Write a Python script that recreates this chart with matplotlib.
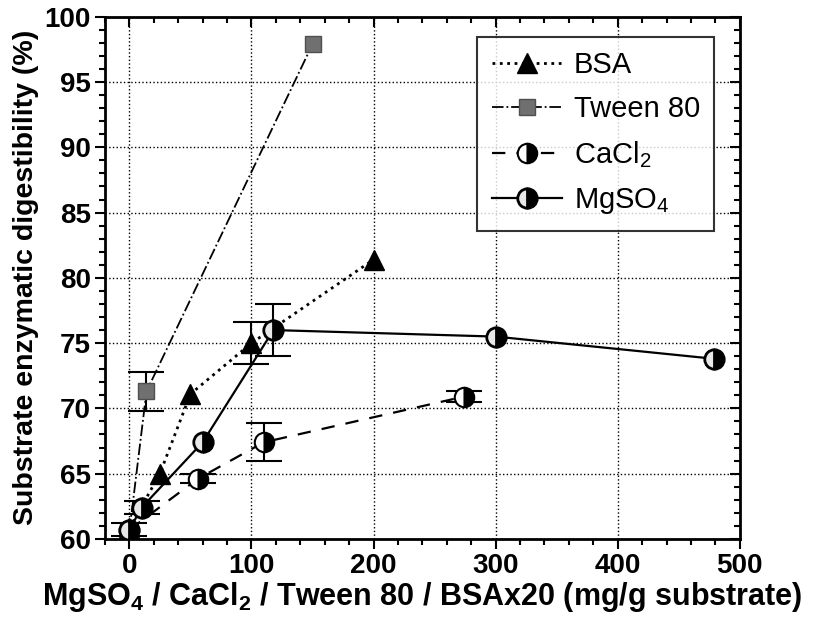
import matplotlib
matplotlib.use("Agg")
import matplotlib.pyplot as plt
from matplotlib.ticker import MultipleLocator

plt.rcParams['font.family'] = ['Liberation Sans', 'DejaVu Sans']
plt.rcParams['mathtext.fontset'] = 'custom'
plt.rcParams['mathtext.rm'] = 'Liberation Sans'
plt.rcParams['mathtext.bf'] = 'Liberation Sans:bold'

# data
bsa_x = [0, 25, 50, 100, 200]
bsa_y = [60.8, 65.0, 71.1, 75.0, 81.4]
bsa_err = [0, 0, 0, 1.6, 0]

tween_x = [0, 14, 150]
tween_y = [60.6, 71.3, 97.9]
tween_err = [0, 1.5, 0]

cacl_x = [0, 56, 110, 274]
cacl_y = [60.7, 64.6, 67.4, 70.9]
cacl_err = [0.5, 0.35, 1.45, 0.4]

mg_x = [0, 10, 60, 118, 300, 479]
mg_y = [60.7, 62.4, 67.4, 76.0, 75.5, 73.8]
mg_err = [0, 0.5, 0, 2.0, 0, 0]

fig = plt.figure(figsize=(8.17, 6.23), dpi=100)
ax = fig.add_axes([0.1285, 0.135, 0.777, 0.838])


def errbars(x, y, err, z):
    # only points that actually carry an error bar
    pts = [(a, b, e) for a, b, e in zip(x, y, err) if e > 0]
    if not pts:
        return
    xs, ys, es = zip(*pts)
    ax.errorbar(xs, ys, yerr=es, fmt='none', ecolor='black', capsize=13,
                elinewidth=1.5, capthick=1.5, zorder=z)


errbars(cacl_x, cacl_y, cacl_err, 3)
errbars(mg_x, mg_y, mg_err, 4)
errbars(bsa_x, bsa_y, bsa_err, 2)
errbars(tween_x, tween_y, tween_err, 2)

h_bsa, = ax.plot(bsa_x, bsa_y, ':', color='black', lw=2,
                 marker='^', ms=15, mfc='black', mec='black', label='BSA', zorder=2)
h_tw, = ax.plot(tween_x, tween_y, '-.', color='black', lw=1.3,
                marker='s', ms=12, mfc='#707070', mec='#505050', label='Tween 80', zorder=2)
h_ca, = ax.plot(cacl_x, cacl_y, '--', color='black', lw=1.6, dashes=(6, 5),
                marker='o', ms=14, mec='black', mew=1.5, mfc='black',
                markerfacecoloralt='white', fillstyle='right', label='CaCl$_2$', zorder=3)
h_mg, = ax.plot(mg_x, mg_y, '-', color='black', lw=1.6,
                marker='o', ms=14, mec='black', mew=2, mfc='black',
                markerfacecoloralt='#e8e8e8', fillstyle='right', label='MgSO$_4$', zorder=4)

ax.set_xlim(-20, 500)
ax.set_ylim(60, 100)
ax.xaxis.set_major_locator(MultipleLocator(100))
ax.xaxis.set_minor_locator(MultipleLocator(20))
ax.yaxis.set_major_locator(MultipleLocator(5))
ax.yaxis.set_minor_locator(MultipleLocator(1))
ax.grid(True, which='major', linestyle=':', color='black', lw=1)
ax.set_axisbelow(True)
for s in ax.spines.values():
    s.set_linewidth(2)
ax.tick_params(which='both', direction='out', width=1.5)
ax.tick_params(which='major', length=7, labelsize=20, pad=3)
ax.tick_params(which='minor', length=4)

# inward ticks on top and right, no labels
top = ax.secondary_xaxis('top')
top.xaxis.set_minor_locator(MultipleLocator(20))
top.set_xticklabels([])
right = ax.secondary_yaxis('right')
right.yaxis.set_minor_locator(MultipleLocator(1))
right.set_yticklabels([])
for sec in (top, right):
    sec.tick_params(which='both', direction='in', width=1.5)
    sec.tick_params(which='major', length=7)
    sec.tick_params(which='minor', length=4)

for lab in ax.get_xticklabels() + ax.get_yticklabels():
    lab.set_fontweight('bold')

ax.set_xlabel(r'MgSO$_\mathbf{4}$ / CaCl$_\mathbf{2}$ / Tween 80 / BSAx20 (mg/g substrate)',
              fontsize=22, fontweight='bold', labelpad=1)
ax.set_ylabel('Substrate enzymatic digestibility (%)', fontsize=20.5, fontweight='bold', labelpad=4)

leg = ax.legend([h_bsa, h_tw, h_ca, h_mg], ['BSA', 'Tween 80', 'CaCl$_2$', 'MgSO$_4$'],
                loc='upper right', fontsize=21, frameon=True, fancybox=False,
                edgecolor='black', handlelength=2.4, borderpad=0.5, labelspacing=0.55,
                handletextpad=0.4, bbox_to_anchor=(0.983, 0.99))
leg.get_frame().set_linewidth(1.5)

fig.savefig('out.png', dpi=100)
